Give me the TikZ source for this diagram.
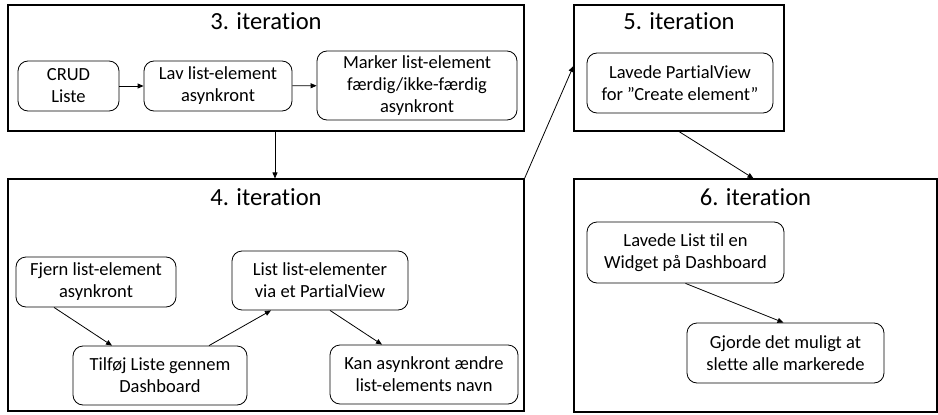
\documentclass[tikz,border=0pt]{standalone}
\usepackage{fontspec}
\setmainfont{Carlito}[Ligatures=NoCommon]
\usetikzlibrary{arrows.meta}
\begin{document}
\begin{tikzpicture}
[x=1pt,y=-1pt,
  framedecorate/.style={shape=rectangle,draw,line width=1.1pt,inner sep=0pt},%
  titledecorate/.style={anchor=base,font=\fontsize{24.6}{29}\selectfont},%
  nodedecorate/.style={shape=rectangle,draw,line width=0.8pt,rounded corners=10pt,
    align=center,inner sep=0pt,font=\fontsize{18.5}{22}\selectfont},%
  linedecorate/.style={-{Triangle[length=6pt,width=5pt]},line width=0.8pt}]
\useasboundingbox (0,0) rectangle (938,415);
% iteration frames
\node (f3) at (266,68) [framedecorate,minimum width=516pt,minimum height=126pt] {};
\node (t3) at (266,29) [titledecorate] {3. iteration};
\node (f4) at (266,295) [framedecorate,minimum width=516pt,minimum height=232pt] {};
\node (t4) at (266,205) [titledecorate] {4. iteration};
\node (f5) at (679,68) [framedecorate,minimum width=210pt,minimum height=126pt] {};
\node (t5) at (679,30) [titledecorate] {5. iteration};
\node (f6) at (755.5,295.5) [framedecorate,minimum width=363pt,minimum height=233pt] {};
\node (t6) at (755.5,205) [titledecorate] {6. iteration};
% nodes or tasks
\node (crud) at (68.5,86) [nodedecorate,minimum width=101pt,minimum height=50pt] {CRUD\\Liste};
\node (lav) at (218,86) [nodedecorate,minimum width=148pt,minimum height=50pt] {Lav list-element\\asynkront};
\node (marker) at (417,85.5) [nodedecorate,minimum width=200pt,minimum height=69pt] {Marker list-element\\færdig/ikke-færdig\\asynkront};
\node (fjern) at (96,282) [nodedecorate,minimum width=160pt,minimum height=50pt] {Fjern list-element\\asynkront};
\node (listpv) at (320,280.5) [nodedecorate,minimum width=176pt,minimum height=59pt] {List list-elementer\\via et PartialView};
\node (tilfoj) at (160,375.5) [nodedecorate,minimum width=174pt,minimum height=59pt] {Tilføj Liste gennem\\Dashboard};
\node (kan) at (424,374.5) [nodedecorate,minimum width=188pt,minimum height=59pt] {Kan asynkront ændre\\list-elements navn};
\node (lavpv) at (680,83) [nodedecorate,minimum width=186pt,minimum height=60pt] {Lavede PartialView\\for ”Create element”};
\node (widget) at (685.5,252.5) [nodedecorate,minimum width=197pt,minimum height=61pt] {Lavede List til en\\Widget på Dashboard};
\node (gjorde) at (785.5,353) [nodedecorate,minimum width=197pt,minimum height=60pt] {Gjorde det muligt at\\slette alle markerede};
% edges or arrows
\path
(crud) edge[linedecorate] (lav)
(lav) edge[linedecorate] (marker)
([xshift=9pt]f3.south) edge[linedecorate] ([xshift=9pt]f4.north)
(f4.north east) edge[linedecorate] ([yshift=2pt]f5.west)
(f5.south) edge[linedecorate] ([xshift=-2pt]f6.north)
([xshift=-42pt]fjern.south) edge[linedecorate] ([xshift=-48pt]tilfoj.north)
([xshift=49pt]tilfoj.north) edge[linedecorate] ([xshift=-49pt]listpv.south)
([xshift=10pt]listpv.south) edge[linedecorate] ([xshift=-42pt]kan.north)
(widget.south) edge[linedecorate] ([xshift=-2pt]gjorde.north);
\end{tikzpicture}
\end{document}
